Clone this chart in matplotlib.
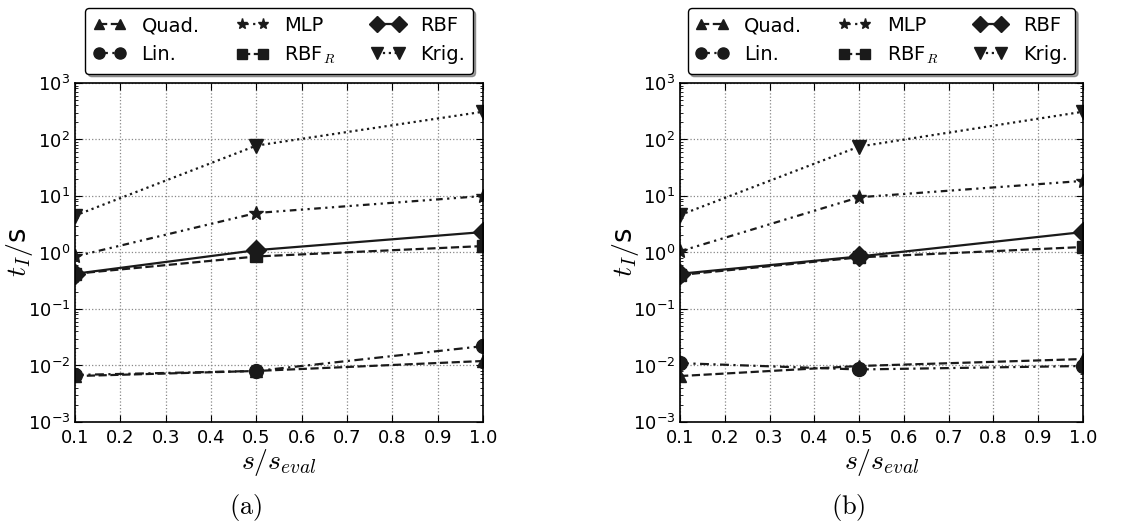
import matplotlib
matplotlib.use('Agg')
import matplotlib.pyplot as plt

plt.rcParams['mathtext.fontset'] = 'cm'
plt.rcParams['font.family'] = 'DejaVu Sans'

x = [0.1, 0.5, 1.0]
xticks = [0.1, 0.2, 0.3, 0.4, 0.5, 0.6, 0.7, 0.8, 0.9, 1.0]

# panel (a)
quad_a = [0.0065, 0.008, 0.012]
lin_a = [0.0068, 0.008, 0.022]
mlp_a = [0.85, 5.0, 10.0]
rbfr_a = [0.42, 0.85, 1.3]
rbf_a = [0.42, 1.1, 2.3]
krig_a = [4.5, 78.0, 310.0]

# panel (b)
quad_b = [0.0065, 0.0098, 0.013]
lin_b = [0.011, 0.0085, 0.0098]
mlp_b = [1.05, 9.5, 18.5]
rbfr_b = [0.40, 0.82, 1.25]
rbf_b = [0.42, 0.85, 2.3]
krig_b = [4.6, 75.0, 310.0]

labels = ['Quad.', 'Lin.', 'MLP', r'RBF$_R$', 'RBF', 'Krig.']
markers = ['^', 'o', '*', 's', 'D', 'v']
msizes = [9, 10, 10, 9, 10, 10]
styles = ['--', (0, (4, 2, 1, 2)), (0, (3, 2, 1, 2, 1, 2)), '--', '-', ':']


def draw_panel(ax, series, tag):
    for vals, lab, m, ms, ls in zip(series, labels, markers, msizes, styles):
        ax.plot(x, vals, color='#1a1a1a', linestyle=ls, linewidth=1.6,
                marker=m, markersize=ms, label=lab)
    ax.set_yscale('log')
    ax.set_xlim(0.1, 1.0)
    ax.set_ylim(1e-3, 1e3)
    ax.set_xticks(xticks)
    ax.set_xticklabels(['%.1f' % t for t in xticks])
    ax.grid(True, which='major', linestyle=':', color='#888888', linewidth=0.9)
    ax.tick_params(which='both', direction='in', top=True, right=True, labelsize=13)
    ax.tick_params(axis='x', pad=5)
    ax.tick_params(which='major', length=5)
    ax.tick_params(which='minor', length=2.5)
    ax.set_ylabel(r'$t_I/$s', fontsize=20)
    ax.yaxis.set_label_coords(-0.098, 0.5)
    ax.set_xlabel(r'$s/s_{eval}$', fontsize=20, labelpad=0)
    for sp in ax.spines.values():
        sp.set_linewidth(1.2)
    handles, labs = ax.get_legend_handles_labels()
    ax.legend(handles, labs, ncol=3, loc='lower center',
              bbox_to_anchor=(0.5, 1.027), borderaxespad=0, fontsize=14,
              fancybox=True, shadow=True, numpoints=2, handlelength=1.7,
              markerscale=0.8, handletextpad=0.8, columnspacing=1.85,
              labelspacing=0.5, borderpad=0.4, framealpha=1,
              edgecolor='black')
    pos = ax.get_position()
    fig.text(pos.x0 + pos.width / 2 - 33 / 1147, 0.027,
             tag, ha='center', va='center', fontsize=19)


fig = plt.figure(figsize=(11.47, 5.22), dpi=100)
ax1 = fig.add_axes([0.0654, 0.1916, 0.3557, 0.6494])
ax2 = fig.add_axes([0.5929, 0.1916, 0.3513, 0.6494])

draw_panel(ax1, [quad_a, lin_a, mlp_a, rbfr_a, rbf_a, krig_a], r'$\mathrm{(a)}$')
draw_panel(ax2, [quad_b, lin_b, mlp_b, rbfr_b, rbf_b, krig_b], r'$\mathrm{(b)}$')

fig.savefig('out.png', dpi=100)
